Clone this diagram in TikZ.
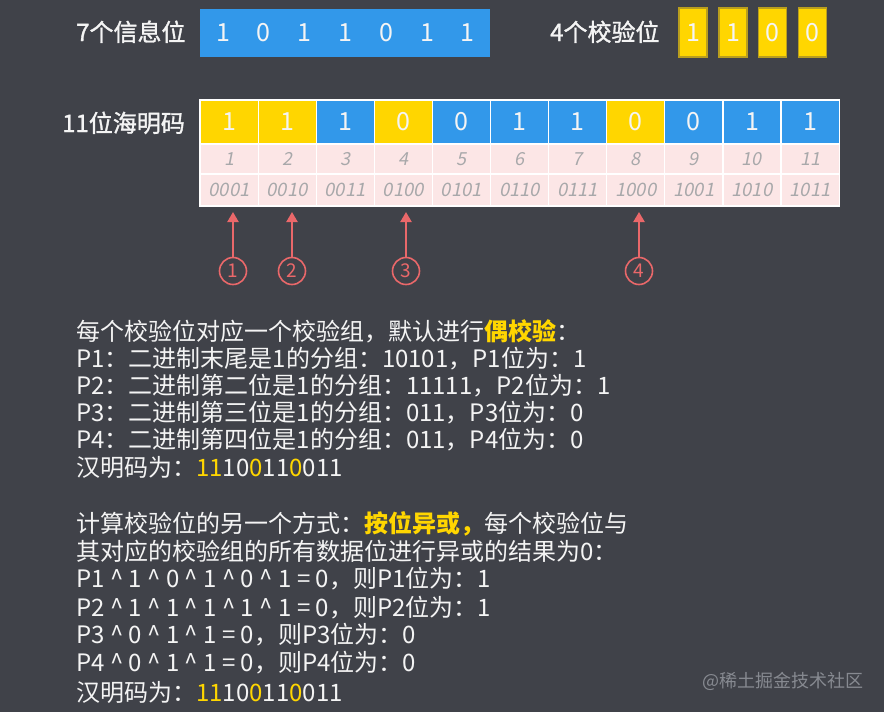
\documentclass[tikz,border=0pt]{standalone}
\usepackage{fontspec}
\setmainfont{Noto Sans CJK SC}
\newfontfamily\slnum{Noto Sans CJK SC}[FakeSlant=0.2]
\newfontfamily\lblfont{Noto Sans CJK SC}[FakeBold=1.3]
\usetikzlibrary{arrows.meta}
\definecolor{bg}{RGB}{64,66,73}
\definecolor{hblue}{RGB}{50,152,234}
\definecolor{hyel}{RGB}{255,214,0}
\definecolor{hyelb}{RGB}{185,158,30}
\definecolor{hpink}{RGB}{252,230,230}
\definecolor{hgray}{RGB}{168,168,170}
\definecolor{hred}{RGB}{234,104,106}
\definecolor{txt}{RGB}{244,244,244}
\definecolor{wm}{RGB}{135,138,145}
\newcommand{\hy}[1]{{\color{hyel}#1}}
\tikzset{
  lbl/.style={text=txt, font=\fontsize{24}{28}\selectfont\lblfont, anchor=base west, inner sep=0},
  line/.style={text=txt, font=\fontsize{24}{28}\selectfont, anchor=base west, inner sep=0},
  dig/.style={text=txt, font=\fontsize{25}{28}\selectfont, inner sep=0},
  pbox/.style={fill=hyel, draw=hyelb, line width=1.5pt, minimum width=28pt, minimum height=49pt, inner sep=0, text=txt, font=\fontsize{25}{28}\selectfont},
  cell/.style={draw=white, line width=1.2pt, minimum width=58.1pt, minimum height=44pt, inner sep=0, text=txt, font=\fontsize{25}{28}\selectfont},
  pcell/.style={draw=white, line width=1.2pt, fill=hpink, minimum width=58.1pt, inner sep=0, text=hgray},
  circ/.style={circle, draw=hred, line width=1.6pt, minimum size=27pt, inner sep=0, text=hred, font=\fontsize{19}{22}\selectfont},
  redarrow/.style={draw=hred, line width=2.2pt, -{Triangle[length=10pt,width=11pt]}},
}
\begin{document}
\begin{tikzpicture}[x=1pt,y=-1pt]
\path[fill=bg] (0,0) rectangle (884,712);
\useasboundingbox (0,0) rectangle (884,712);

% top row
\node[lbl] (info) at (76,41) {7个信息位};
\node[fill=hblue, minimum width=290pt, minimum height=48pt, inner sep=0] (ibox) at (345,33) {};
\foreach \d [count=\k from 0] in {1,0,1,1,0,1,1}
  \node[dig] (id\k) at ({223+40.8*\k},33) {\d};
\node[lbl] (chk) at (550,41) {4个校验位};
\node[pbox] (p1) at (693,32.5) {1};
\node[pbox] (p2) at (733,32.5) {1};
\node[pbox] (p3) at (772.5,32.5) {0};
\node[pbox] (p4) at (812.5,32.5) {0};

% table
\node[lbl] (ham) at (62,132) {11位海明码};
\foreach \i/\v/\c/\b in {1/1/hyel/0001,2/1/hyel/0010,3/1/hblue/0011,4/0/hyel/0100,5/0/hblue/0101,6/1/hblue/0110,7/1/hblue/0111,8/0/hyel/1000,9/0/hblue/1001,10/1/hblue/1010,11/1/hblue/1011}{
  \node[cell, fill=\c] (b\i) at ({200+58.1*(\i-0.5)},122) {\v};
  \node[pcell, minimum height=30pt, font=\fontsize{18}{20}\selectfont\slnum] (n\i) at ({200+58.1*(\i-0.5)},159) {\i};
  \node[pcell, minimum height=32pt, font=\fontsize{18.5}{20}\selectfont\slnum] (c\i) at ({200+58.1*(\i-0.5)},190) {\b};
}
\draw[white, line width=1.5pt] (b1.north west) rectangle (c11.south east);

% arrows
\coordinate (tb) at (0,212);
\node[circ] (k1) at (233,271) {1};
\node[circ] (k2) at (292,271) {2};
\node[circ] (k3) at (406,271) {3};
\node[circ] (k4) at (639,271) {4};
\foreach \k in {1,2,3,4}
  \draw[redarrow] (k\k.north) -- (k\k.north |- tb);

% block 1
\node[line] (a1) at (76,340) {每个校验位对应一个校验组，默认进行{\color{hyel}\bfseries 偶校验}：};
\node[line] (a2) at (76,367) {P1：二进制末尾是1的分组：10101，P1位为：1};
\node[line] (a3) at (76,394) {P2：二进制第二位是1的分组：11111，P2位为：1};
\node[line] (a4) at (76,421) {P3：二进制第三位是1的分组：011，P3位为：0};
\node[line] (a5) at (76,448) {P4：二进制第四位是1的分组：011，P4位为：0};
\node[line] (a6) at (76,476) {汉明码为：\hy{11}10\hy{0}11\hy{0}011};

% block 2
\node[line] (s1) at (76,532) {计算校验位的另一个方式：{\color{hyel}\bfseries 按位异或，}每个校验位与};
\node[line] (s2) at (76,560) {其对应的校验组的所有数据位进行异或的结果为0：};
\node[line] (s3) at (76,587) {P1 \textasciicircum\ 1 \textasciicircum\ 0 \textasciicircum\ 1 \textasciicircum\ 0 \textasciicircum\ 1 = 0，则P1位为：1};
\node[line] (s4) at (76,616) {P2 \textasciicircum\ 1 \textasciicircum\ 1 \textasciicircum\ 1 \textasciicircum\ 1 \textasciicircum\ 1 = 0，则P2位为：1};
\node[line] (s5) at (76,643) {P3 \textasciicircum\ 0 \textasciicircum\ 1 \textasciicircum\ 1 = 0，则P3位为：0};
\node[line] (s6) at (76,671) {P4 \textasciicircum\ 0 \textasciicircum\ 1 \textasciicircum\ 1 = 0，则P4位为：0};
\node[line] (s7) at (76,701) {汉明码为：\hy{11}10\hy{0}11\hy{0}011};

% watermark
\node[text=wm, font=\fontsize{18}{22}\selectfont, anchor=base west, inner sep=0] (wmk) at (702,687) {@稀土掘金技术社区};
\end{tikzpicture}
\end{document}
